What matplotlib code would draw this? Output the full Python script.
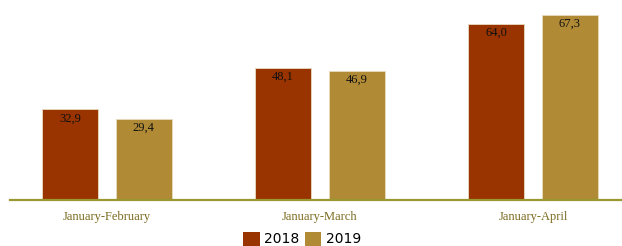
import matplotlib
matplotlib.use("Agg")
import matplotlib.pyplot as plt
import numpy as np
from matplotlib.patches import Patch

categories = ["January-February", "January-March", "January-April"]
series_names = ["2018", "2019"]
values_2018 = [32.9, 48.1, 64.0]
values_2019 = [29.4, 46.9, 67.3]
labels_2018 = ["32,9", "48,1", "64,0"]
labels_2019 = ["29,4", "46,9", "67,3"]

c18 = "#993300"
c19 = "#B08A35"
axis_col = "#9A9830"
cat_col = "#7A6A1E"

fig = plt.figure(figsize=(6.22, 2.46), dpi=100)
W, H = 622, 246
ax = fig.add_axes([10 / W, 46 / H, (622 - 10) / W, 200 / H])

x = np.arange(len(categories))
w = 0.263
off = 0.173
b1 = ax.bar(x - off, values_2018, width=w, color=c18, edgecolor="#E8DCC0", linewidth=0.6)
b2 = ax.bar(x + off, values_2019, width=w, color=c19, edgecolor="#E8DCC0", linewidth=0.6)

for bars, labs in ((b1, labels_2018), (b2, labels_2019)):
    for r, t in zip(bars, labs):
        ax.annotate(t, (r.get_x() + r.get_width() / 2, r.get_height()),
                    xytext=(0, -2), textcoords="offset points",
                    ha="center", va="top", fontsize=9,
                    family="Liberation Serif", color="#111111")

ax.set_xlim(-0.455, 2.418)
ax.set_ylim(0, 72.7)
for s in ("top", "right", "left"):
    ax.spines[s].set_visible(False)
ax.spines["bottom"].set_color(axis_col)
ax.spines["bottom"].set_linewidth(1.6)
ax.set_yticks([])
ax.set_xticks(x)
ax.set_xticklabels(categories, family="Liberation Serif", fontsize=9, color=cat_col)
ax.tick_params(axis="x", length=0, pad=8)

handles = [Patch(facecolor=c18, edgecolor="none"), Patch(facecolor=c19, edgecolor="none")]
fig.legend(handles, series_names, loc="center", bbox_to_anchor=(302 / W, 1 - 239 / H),
           ncol=2, frameon=False, fontsize=10, handlelength=1.2, handleheight=1.2,
           handletextpad=0.3, columnspacing=0.4, borderpad=0, borderaxespad=0)

fig.savefig("out.png", dpi=100)
